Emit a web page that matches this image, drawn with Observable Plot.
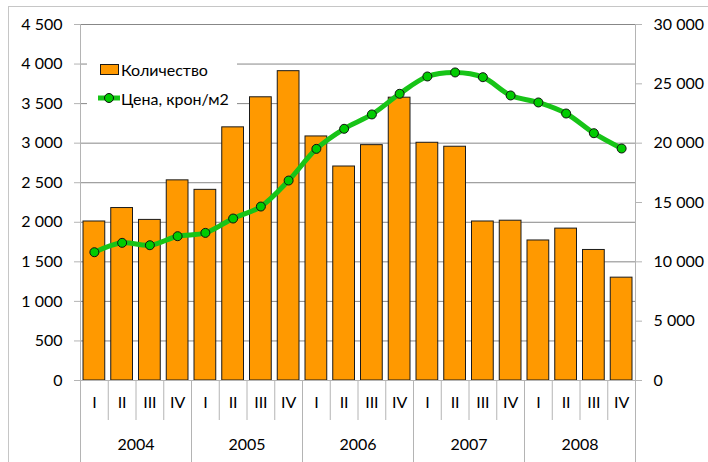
<!DOCTYPE html>
<html><head><meta charset="utf-8">
<script src="https://cdn.jsdelivr.net/npm/d3@7"></script>
<script src="https://cdn.jsdelivr.net/npm/@observablehq/plot@0.6"></script>
<style>
body{margin:0;background:#fff;overflow:hidden;font-family:Lato,"Open Sans",sans-serif;}
#wrap{position:relative;width:708px;height:462px;overflow:hidden;}
#border{position:absolute;left:8px;top:6px;width:760px;height:520px;border:1px solid #c6c6c6;pointer-events:none;}
#legend{position:absolute;left:87px;top:50px;width:150px;height:64px;background:#fff;font-size:16px;color:#000;}
.row{position:absolute;left:0;display:flex;align-items:center;height:20px;}
.sw{display:inline-block;width:17px;height:9px;background:#ff9900;border:1px solid #1a1a1a;margin-left:13px;margin-right:2px;}
</style></head>
<body>
<div id="wrap">
<div id="chart"></div>
<div id="border"></div>
<div id="legend">
  <div class="row" style="top:9px"><span class="sw"></span><span>Количество</span></div>
  <div class="row" style="top:38px"><svg width="34" height="20" style="margin-left:0"><line x1="11" x2="33" y1="10" y2="10" stroke="#17c417" stroke-width="5"/><circle cx="22" cy="10" r="4.5" fill="#00cc00" stroke="#111"/></svg><span>Цена, крон/м2</span></div>
</div>
</div>
<script>
const years = ["2004","2005","2006","2007","2008"];
const quarters = ["I","II","III","IV"];
const quantity = [2010,2180,2030,2530, 2410,3200,3580,3910, 3085,2705,2975,3575, 3005,2955,2010,2020, 1770,1920,1650,1300];
const price = [10810,11600,11400,12160, 12440,13650,14660,16850, 19520,21210,22420,24160, 25620,25960,25560,24020, 23430,22500,20840,19550];
const leftTicks = d3.range(0, 4501, 500);
const rightTicks = d3.range(0, 30001, 5000);

const k = 4500 / 30000; // right axis -> left axis
const fmt = d3.formatLocale({thousands:"\u00a0", grouping:[3], decimal:","}).format(",");
const rows = quantity.map((q, i) => ({i, year: years[Math.floor(i/4)], quarter: quarters[i%4], quantity: q, price: price[i]}));
const axisGray = "#b4b4b4";

const chart = Plot.plot({
  width: 708, height: 462,
  marginLeft: 80, marginRight: 73, marginTop: 24, marginBottom: 82,
  style: {fontFamily: "Lato, 'Open Sans', sans-serif", fontSize: "16px", color: "#000", background: "transparent", overflow: "visible"},
  x: {domain: [0, 20], axis: null},
  y: {domain: [0, 4500], axis: null},
  marks: [
    Plot.gridY(leftTicks.filter(d => d > 0), {stroke: "#878787", strokeOpacity: 1}),
    Plot.ruleX([0, 20], {stroke: axisGray}),
    Plot.rectY(rows, {x1: "i", x2: d => d.i + 1, y: "quantity", fill: "#ff9900", stroke: "#1a1a1a", strokeWidth: 1, insetLeft: 3, insetRight: 3}),
    Plot.ruleY([0], {stroke: axisGray}),
    Plot.axisY(leftTicks, {anchor: "left", tickSize: 6, tickPadding: 12, tickFormat: fmt, stroke: axisGray, label: null}),
    Plot.axisY(rightTicks.map(d => d * k), {anchor: "right", tickSize: 6, tickPadding: 12, tickFormat: d => fmt(Math.round(d / k)), stroke: axisGray, label: null}),
    Plot.axisX(d3.range(0, 21), {anchor: "bottom", tickSize: 40, tickFormat: () => "", stroke: axisGray, label: null}),
    Plot.axisX(d3.range(0, 21, 4), {anchor: "bottom", tickSize: 82, tickFormat: () => "", stroke: axisGray, label: null}),
    Plot.axisX(rows.map(d => d.i + 0.5), {anchor: "bottom", tickSize: 0, tickPadding: 16, tickFormat: d => quarters[Math.floor(d) % 4], label: null}),
    Plot.axisX(years.map((y, j) => j * 4 + 2), {anchor: "bottom", tickSize: 0, tickPadding: 58, tickFormat: d => years[(d - 2) / 4], label: null}),
    Plot.line(rows, {x: d => d.i + 0.5, y: d => d.price * k, stroke: "#17c417", strokeWidth: 5, curve: "catmull-rom"}),
    Plot.dot(rows, {x: d => d.i + 0.5, y: d => d.price * k, r: 4.5, fill: "#00cc00", stroke: "#111", strokeWidth: 1})
  ]
});
document.getElementById("chart").appendChild(chart);
</script>
</body></html>
